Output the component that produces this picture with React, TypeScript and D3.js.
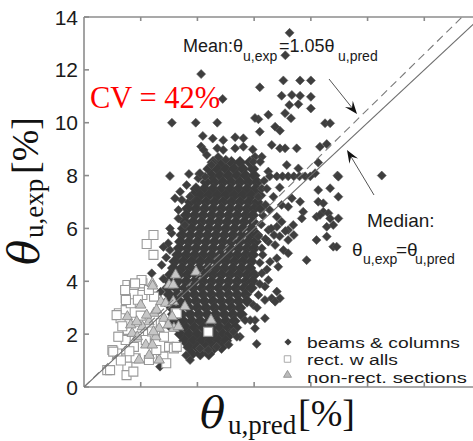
import React from 'react';
import * as d3 from 'd3';

const yTicks = [0, 2, 4, 6, 8, 10, 12, 14];
const xTicks = [2, 4, 6, 8, 10, 12];
const legendLabels = ['beams & columns', 'rect. w alls', 'non-rect. sections'];

// beams & columns: dense core read row by row (y, list of x)
const beamsCoreRows: [number, number[]][] = [
  [8.5, [4.55, 4.85, 5.2, 5.5, 5.85]],
  [8.25, [4.4, 4.7, 5.0, 5.3, 5.6, 5.95]],
  [8.0, [4.5, 4.8, 5.1, 5.4, 5.7, 6.0]],
  [7.75, [4.3, 4.6, 4.9, 5.2, 5.5, 5.8, 6.1]],
  [7.5, [3.95, 4.25, 4.55, 4.85, 5.15, 5.45, 5.75, 6.05]],
  [7.25, [3.85, 4.1, 4.4, 4.7, 5.0, 5.3, 5.6, 5.9, 6.2]],
  [7.0, [3.75, 4.0, 4.3, 4.6, 4.9, 5.2, 5.5, 5.8, 6.1]],
  [6.75, [3.65, 3.95, 4.25, 4.55, 4.85, 5.15, 5.45, 5.75, 6.0, 6.25]],
  [6.5, [3.6, 3.9, 4.2, 4.5, 4.8, 5.1, 5.4, 5.7, 5.95]],
  [6.25, [3.55, 3.85, 4.15, 4.45, 4.75, 5.05, 5.35, 5.65, 5.95]],
  [6.0, [3.5, 3.8, 4.1, 4.4, 4.7, 5.0, 5.3, 5.6, 5.9]],
  [5.75, [3.45, 3.75, 4.05, 4.35, 4.65, 4.95, 5.25, 5.55, 5.85, 6.1]],
  [5.5, [3.4, 3.7, 4.0, 4.3, 4.6, 4.9, 5.2, 5.5, 5.8, 6.05]],
  [5.25, [3.35, 3.65, 3.95, 4.25, 4.55, 4.85, 5.15, 5.45, 5.75, 6.0]],
  [5.0, [3.3, 3.6, 3.9, 4.2, 4.5, 4.8, 5.1, 5.4, 5.7, 5.95]],
  [4.75, [3.2, 3.5, 3.8, 4.1, 4.4, 4.7, 5.0, 5.3, 5.6, 5.9]],
  [4.5, [3.15, 3.45, 3.75, 4.05, 4.35, 4.65, 4.95, 5.25, 5.55, 5.85]],
  [4.25, [3.05, 3.35, 3.65, 3.95, 4.25, 4.55, 4.85, 5.15, 5.45, 5.75, 6.0]],
  [4.0, [3.0, 3.3, 3.6, 3.9, 4.2, 4.5, 4.8, 5.1, 5.4, 5.7, 5.95]],
  [3.75, [2.95, 3.25, 3.55, 3.85, 4.15, 4.45, 4.75, 5.05, 5.35, 5.65, 5.9]],
  [3.5, [3.0, 3.3, 3.6, 3.9, 4.2, 4.5, 4.8, 5.1, 5.4, 5.7]],
  [3.25, [3.05, 3.35, 3.65, 3.95, 4.25, 4.55, 4.85, 5.15, 5.45, 5.75]],
  [3.0, [3.1, 3.4, 3.7, 4.0, 4.3, 4.6, 4.9, 5.2, 5.5]],
  [2.75, [3.15, 3.45, 3.75, 4.05, 4.35, 4.65, 4.95, 5.25, 5.55]],
  [2.5, [3.2, 3.5, 3.8, 4.1, 4.4, 4.7, 5.0, 5.3]],
  [2.25, [3.3, 3.6, 3.9, 4.2, 4.5, 4.8, 5.1, 5.35]],
  [2.0, [3.4, 3.7, 4.0, 4.3, 4.6, 4.9, 5.15]],
  [1.75, [3.55, 3.85, 4.15, 4.45, 4.75, 5.0]],
  [1.5, [3.7, 4.0, 4.3, 4.6, 4.85]],
  [1.25, [3.8, 4.1, 4.4]],
];

// beams & columns: scattered points outside the core
const beamsScatter: [number, number][] = [
  [7.25, 13.4], [7.1, 12.55], [4.13, 11.84], [7.03, 11.6], [7.62, 11.6], [8.0, 11.6], [6.2, 11.34],
  [4.89, 10.9], [6.97, 11.02], [7.33, 11.05], [7.62, 11.02], [8.0, 10.98], [7.24, 10.67], [7.56, 10.7],
  [8.0, 10.54], [6.15, 10.13], [6.5, 10.3], [7.09, 10.36], [7.3, 10.17], [8.5, 9.98], [8.68, 9.98],
  [6.03, 10.18], [6.74, 9.85], [6.91, 9.7], [6.2, 9.66], [3.1, 10.0], [3.94, 10.0], [4.7, 10.0],
  [4.19, 9.5], [4.54, 9.4], [5.33, 9.45], [5.62, 9.41], [4.91, 9.34], [4.13, 9.1], [4.22, 8.97],
  [4.7, 9.03], [4.91, 8.97], [5.33, 9.03], [5.62, 9.09], [5.95, 8.99], [6.62, 9.16], [6.91, 9.03],
  [7.09, 9.03], [7.5, 9.03], [8.32, 9.09], [8.56, 9.19], [6.03, 8.71], [6.27, 8.71], [4.73, 8.7],
  [5.0, 8.6], [4.55, 8.47], [5.97, 8.52], [6.21, 8.52],
  [3.03, 7.98], [3.7, 8.06], [4.06, 8.06], [4.33, 8.78], [4.5, 8.4], [6.5, 8.15], [7.15, 8.4],
  [7.56, 8.27], [8.26, 8.49], [8.15, 8.09], [6.55, 7.97], [6.8, 7.97], [7.0, 7.97], [7.2, 7.97],
  [7.4, 7.97], [7.6, 7.97], [7.8, 7.97], [7.98, 7.97], [8.94, 8.0], [10.5, 8.0],
  [6.27, 7.51], [6.68, 7.2], [7.33, 7.14], [7.62, 7.01], [8.26, 7.45], [8.68, 7.52], [8.26, 7.01],
  [8.97, 7.2], [8.97, 7.96], [6.97, 6.89], [7.2, 6.82], [7.73, 6.63], [8.44, 6.95], [8.44, 6.63],
  [8.62, 6.57], [8.2, 6.44], [8.68, 6.38], [8.97, 6.38], [8.32, 6.51], [7.68, 6.38], [6.8, 6.44],
  [6.97, 6.25], [7.38, 6.13], [6.8, 6.06], [8.56, 6.06], [8.79, 6.13], [6.5, 5.94], [7.2, 5.94],
  [6.15, 7.2], [6.4, 6.9], [6.3, 6.5], [6.55, 6.7], [6.25, 6.15], [6.45, 7.5], [6.9, 7.55], [6.35, 7.8],
  [8.56, 5.69], [8.2, 5.56], [8.79, 5.31], [8.91, 5.31], [6.15, 5.69], [6.5, 5.5], [6.74, 5.37],
  [7.2, 5.56], [7.03, 5.18], [6.27, 5.25], [7.2, 5.06], [6.56, 4.74], [6.85, 4.55], [6.8, 4.87],
  [7.85, 4.8], [6.27, 4.3], [6.5, 4.05], [6.38, 3.8], [6.6, 6.0], [6.9, 5.7], [7.1, 5.9], [7.4, 5.75],
  [6.7, 5.75], [6.4, 5.6], [6.3, 5.0], [6.2, 4.7], [6.45, 4.45],
  [6.8, 3.61], [6.91, 3.36], [6.62, 3.36], [6.15, 3.48], [6.38, 3.29], [6.74, 3.23], [5.97, 3.1],
  [6.38, 2.6], [6.03, 2.53], [5.86, 2.53], [5.68, 2.53], [6.03, 2.22], [5.5, 1.9], [5.39, 1.9],
  [6.09, 1.63], [5.27, 2.09], [6.1, 3.0], [6.2, 3.9],
  [2.8, 5.3], [3.03, 5.18], [2.97, 5.44], [2.74, 4.62], [2.39, 4.3], [3.09, 5.82], [3.03, 6.0],
  [3.33, 6.38], [3.33, 6.7], [3.45, 7.08], [3.21, 7.14], [3.39, 7.39], [3.62, 7.64], [3.74, 7.2],
  [4.03, 7.9], [4.27, 7.96], [4.09, 8.09], [3.56, 6.13], [2.9, 4.9], [2.8, 4.1], [2.7, 3.6],
  [2.85, 3.2], [3.0, 2.3], [2.68, 0.77], [3.74, 1.02], [3.6, 1.2], [4.09, 1.46], [4.38, 1.4],
  [4.68, 1.52], [5.1, 1.6],
];

const rectWalls: [number, number][] = [
  [1.53, 3.86], [1.76, 3.86], [2.06, 3.92], [1.47, 3.36], [1.23, 2.79], [1.47, 2.91], [2.06, 3.48],
  [3.23, 2.79], [1.53, 2.16], [1.23, 1.9], [1.47, 1.78], [1.0, 1.4], [1.17, 1.27], [1.53, 1.09],
  [1.82, 1.09], [0.82, 0.64], [1.53, 0.77], [2.29, 1.02], [2.71, 1.09], [3.0, 1.52], [3.17, 1.46],
  [1.76, 1.52], [1.94, 1.9], [1.82, 2.47], [2.71, 2.41], [2.82, 1.9], [2.47, 3.42], [2.29, 3.67],
  [1.65, 3.17], [1.29, 2.6], [2.18, 1.78], [1.15, 2.72], [1.45, 3.67], [1.48, 3.29], [1.21, 1.9],
  [1.03, 1.34], [0.92, 0.64], [1.5, 0.45], [1.74, 0.58], [2.03, 4.05], [1.8, 3.92], [2.8, 1.15],
  [3.27, 1.52], [3.27, 2.79], [2.45, 5.75], [2.21, 5.41], [2.45, 5.0], [4.38, 2.09], [1.35, 2.3],
  [2.0, 2.7], [1.6, 1.35], [2.4, 2.1], [1.9, 3.3], [2.55, 1.4], [1.3, 1.0], [2.9, 0.9],
];

const nonRectSections: [number, number][] = [
  [2.41, 3.92], [3.0, 3.86], [3.15, 3.86], [3.95, 4.35], [3.23, 4.24], [2.71, 3.23], [2.47, 2.79],
  [2.88, 3.17], [2.29, 2.47], [2.06, 2.28], [1.7, 2.03], [2.53, 1.9], [1.88, 1.9], [2.18, 1.59],
  [2.41, 1.59], [2.65, 2.22], [1.94, 1.02], [2.65, 1.02], [1.53, 2.66], [1.65, 2.35], [2.82, 2.6],
  [3.17, 2.22], [3.11, 2.66], [2.42, 3.82], [3.56, 3.04], [3.15, 3.23], [4.48, 2.53], [3.33, 2.28],
  [2.97, 2.35], [2.56, 2.91], [2.21, 2.72], [1.86, 2.47], [2.45, 2.09], [2.3, 1.2], [2.0, 3.1],
];

const beamsCore: [number, number][] = beamsCoreRows.flatMap(([yv, xs]) =>
  xs.map((xv) => [xv, yv] as [number, number])
);

const W = 473;
const H = 441;
const L = 84;
const T = 17;
const B = 387;

const x = d3.scaleLinear().domain([0, 14]).range([L, 481]);
const y = d3.scaleLinear().domain([0, 14]).range([B, T]);

const diamond = (cx: number, cy: number, r: number) =>
  `M${cx},${cy - r}L${cx + r},${cy}L${cx},${cy + r}L${cx - r},${cy}Z`;
const square = (cx: number, cy: number, s: number) =>
  `M${cx - s / 2},${cy - s / 2}h${s}v${s}h${-s}Z`;
const triangle = (cx: number, cy: number, s: number) => {
  const h = (s * Math.sqrt(3)) / 2;
  return `M${cx},${cy - (2 * h) / 3}L${cx + s / 2},${cy + h / 3}L${cx - s / 2},${cy + h / 3}Z`;
};

const arrow = (x1: number, y1: number, x2: number, y2: number) => {
  const dx = x2 - x1;
  const dy = y2 - y1;
  const len = Math.hypot(dx, dy);
  const ux = dx / len;
  const uy = dy / len;
  const px = -uy;
  const py = ux;
  const hl = 13;
  const hw = 5;
  const notch = 8;
  const head = `M${x2},${y2}L${x2 - ux * hl + px * hw},${y2 - uy * hl + py * hw}L${x2 - ux * notch},${y2 - uy * notch}L${x2 - ux * hl - px * hw},${y2 - uy * hl - py * hw}Z`;
  return { line: `M${x1},${y1}L${x2 - ux * notch},${y2 - uy * notch}`, head };
};

const sans = "'Liberation Sans', Arial, sans-serif";
const serif = "'Liberation Serif', 'Times New Roman', serif";
const thetaFont = "'DejaVu Serif', serif";

export default function App() {
  const meanArrow = arrow(329, 79, 357, 114);
  const medArrow = arrow(374, 195, 347, 150);
  const lineSolid = d3.line<[number, number]>().x((d) => x(d[0])).y((d) => y(d[1]))([
    [0, 0],
    [14, 14],
  ]);
  const lineDash = d3.line<[number, number]>().x((d) => x(d[0])).y((d) => y(d[1]))([
    [0, 0],
    [14 / 1.05, 14],
  ]);
  const legendWidths = [153, 91, 160];
  return (
    <svg width={W} height={H} style={{ position: 'absolute', left: 0, top: 0, display: 'block', background: '#fff' }}>
      <defs>
        <clipPath id="plot">
          <rect x={L} y={T} width={W - L} height={B - T} />
        </clipPath>
      </defs>
      <rect x={0} y={0} width={W} height={H} fill="#fff" />
      {/* spines */}
      <g stroke="#8c8c8c" strokeWidth={1.6} fill="none">
        <line x1={L} y1={T} x2={W} y2={T} />
        <line x1={L} y1={B} x2={W} y2={B} />
        <line x1={L} y1={T} x2={L} y2={B} />
        {yTicks.map((t) => (
          <line key={'yt' + t} x1={L} x2={L + 5} y1={y(t)} y2={y(t)} />
        ))}
        {xTicks.map((t) => (
          <line key={'xtt' + t} x1={x(t)} x2={x(t)} y1={T} y2={T + 4} />
        ))}
        {xTicks.map((t) => (
          <line key={'xtb' + t} x1={x(t)} x2={x(t)} y1={B} y2={B - 5} />
        ))}
      </g>
      {yTicks.map((t) => (
        <text key={'yl' + t} x={78} y={y(t) + 7.5} textAnchor="end" fontFamily={sans} fontSize={21} fill="#1a1a1a">
          {t}
        </text>
      ))}
      <g clipPath="url(#plot)">
        {beamsCore.map((d, i) => (
          <path key={'bc' + i} d={diamond(x(d[0]), y(d[1]), 6.1)} fill="#3b3b3b" stroke="#444" strokeWidth={0.5} />
        ))}
        {beamsScatter.map((d, i) => (
          <path key={'bs' + i} d={diamond(x(d[0]), y(d[1]), 4.5)} fill="#3e3e3e" stroke="#555" strokeWidth={0.6} />
        ))}
        {rectWalls.map((d, i) => (
          <path key={'r' + i} d={square(x(d[0]), y(d[1]), 9)} fill="#fff" stroke="#9a9a9a" strokeWidth={1.1} />
        ))}
        {nonRectSections.map((d, i) => (
          <path key={'n' + i} d={triangle(x(d[0]), y(d[1]), 10.5)} fill="#c6c6c6" stroke="#8a8a8a" strokeWidth={0.9} />
        ))}
        <path d={lineSolid || ''} stroke="#6e6e6e" strokeWidth={1.1} fill="none" />
        <path d={lineDash || ''} stroke="#7a7a7a" strokeWidth={1.1} fill="none" strokeDasharray="8 5" />
      </g>
      {/* arrows */}
      <path d={meanArrow.line} stroke="#555" strokeWidth={1} fill="none" />
      <path d={meanArrow.head} fill="#111" />
      <path d={medArrow.line} stroke="#555" strokeWidth={1} fill="none" />
      <path d={medArrow.head} fill="#111" />
      {/* annotations */}
      <text y={52} fontFamily={sans} fontSize={18} fill="#1a1a1a">
        <tspan x={183}>Mean:θ</tspan>
        <tspan x={243} dy={9} fontSize={14}>u,exp</tspan>
        <tspan x={279} dy={-9}>=1.05θ</tspan>
        <tspan x={338} dy={9} fontSize={14}>u,pred</tspan>
      </text>
      <text x={367} y={227} fontFamily={sans} fontSize={19} fill="#1a1a1a">
        Median:
      </text>
      <text y={256} fontFamily={sans} fontSize={19} fill="#1a1a1a">
        <tspan x={352}>θ</tspan>
        <tspan x={363} dy={8} fontSize={14}>u,exp</tspan>
        <tspan x={396} dy={-8}>=θ</tspan>
        <tspan x={415} dy={8} fontSize={14}>u,pred</tspan>
      </text>
      <text x={90} y={108} fontFamily={serif} fontSize={32} fill="#ff0000" textLength={130} lengthAdjust="spacingAndGlyphs">
        CV = 42%
      </text>
      {/* legend */}
      <path d={diamond(288, 342, 3.6)} fill="#3e3e3e" />
      <path d={square(287.5, 359, 6.5)} fill="#fff" stroke="#aaa" strokeWidth={1} />
      <path d={triangle(287.5, 375, 8)} fill="#bbb" stroke="#888" strokeWidth={0.8} />
      {legendLabels.map((lab, i) => (
        <text
          key={lab}
          x={307}
          y={347.5 + i * 17.5}
          fontFamily={sans}
          fontSize={15.5}
          fill="#1a1a1a"
          textLength={legendWidths[i]}
          lengthAdjust="spacingAndGlyphs"
        >
          {lab}
        </text>
      ))}
      {/* x label */}
      <text y={428} fill="#111">
        <tspan x={200} fontFamily={thetaFont} fontSize={42} fontStyle="italic">θ</tspan>
        <tspan x={228} dy={6} fontFamily={serif} fontSize={27}>u,pred</tspan>
        <tspan x={298} dy={-8} fontFamily={serif} fontSize={38}>[%]</tspan>
      </text>
      {/* y label */}
      <g transform="translate(39,265) rotate(-90)">
        <text y={0} fill="#111">
          <tspan x={0} fontFamily={thetaFont} fontSize={42} fontStyle="italic">θ</tspan>
          <tspan x={27} dy={4} fontFamily={serif} fontSize={27}>u,exp</tspan>
          <tspan x={91} dy={-5} fontFamily={serif} fontSize={38}>[%]</tspan>
        </text>
      </g>
    </svg>
  );
}
